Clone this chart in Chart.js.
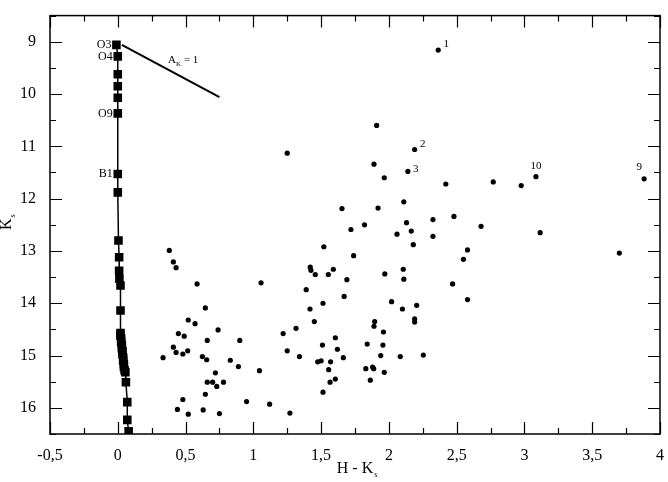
<!DOCTYPE html>
<html>
<head>
<meta charset="utf-8">
<script src="https://cdn.jsdelivr.net/npm/chart.js@4.4.1/dist/chart.umd.min.js"></script>
<style>
  html, body { margin: 0; padding: 0; background: #fff; }
  #wrap { width: 668px; height: 482px; }
</style>
</head>
<body>
<div id="wrap"><canvas id="cmd" width="668" height="482"></canvas></div>
<script>
// Colour-magnitude diagram: K_s vs H - K_s, main sequence + field stars.

// Main sequence (squares joined by a line), spectral type labels where given.
const msX = [-0.01, 0, 0, 0, 0, 0, 0, 0, 0.005, 0.01, 0.01, 0.012, 0.02, 0.02,
    0.02, 0.02, 0.025, 0.025, 0.03, 0.03, 0.035, 0.035, 0.04, 0.04, 0.045, 0.045, 0.05,
    0.056, 0.06, 0.07, 0.07, 0.08];
const msY = [9.06, 9.28, 9.62, 9.85, 10.07, 10.37, 11.53, 11.88, 12.80, 13.12, 13.38, 13.53, 13.66, 14.14,
    14.57, 14.62, 14.68, 14.74, 14.80, 14.86, 14.92, 14.98, 15.04, 15.10, 15.16, 15.22, 15.28,
    15.32, 15.51, 15.89, 16.23, 16.45];
const msNames = ["O3", "O4", "", "", "", "O9", "B1"];

// Field stars
const starX = [0.38, 0.41, 0.43, 0.585, 1.057, 0.646, 0.52, 0.57, 0.74, 0.447,
    0.49, 0.66, 0.90, 0.41, 0.43, 0.48, 0.516, 0.624, 0.656, 0.334,
    0.83, 0.89, 1.045, 0.72, 0.66, 0.70, 0.78, 0.73, 0.646, 0.48,
    0.95, 1.12, 0.44, 0.63, 0.52, 0.75, 2.364, 1.91, 1.25, 2.19,
    1.89, 2.14, 1.966, 2.42, 2.11, 1.654, 1.92, 2.48, 2.325, 2.13,
    1.82, 1.72, 2.165, 2.06, 2.325, 2.18, 2.58, 2.55, 1.52, 1.74,
    1.42, 1.425, 1.457, 1.553, 1.59, 1.69, 1.97, 2.106, 2.11, 1.39,
    1.67, 2.47, 2.58, 1.514, 2.02, 1.418, 2.10, 2.205, 3.085, 3.883,
    2.77, 2.976, 2.68, 3.116, 3.70, 1.45, 1.895, 1.89, 2.19, 2.19,
    1.315, 1.22, 1.96, 1.605, 1.51, 1.62, 1.84, 1.956, 1.25, 1.34,
    1.664, 1.94, 2.084, 2.254, 1.475, 1.50, 1.57, 1.556, 1.83, 1.88,
    1.888, 1.966, 1.605, 1.566, 1.863, 1.514, 1.27];
const starY = [12.99, 13.21, 13.32, 13.63, 13.61, 14.09, 14.32, 14.39, 14.51, 14.58,
    14.63, 14.71, 14.71, 14.84, 14.94, 14.97, 14.91, 15.02, 15.08, 15.04,
    15.09, 15.21, 15.29, 15.33, 15.51, 15.51, 15.51, 15.59, 15.74, 15.84,
    15.88, 15.93, 16.03, 16.04, 16.12, 16.11, 9.16, 10.60, 11.13, 11.06,
    11.34, 11.48, 11.60, 11.72, 12.06, 12.19, 12.18, 12.34, 12.40, 12.46,
    12.50, 12.59, 12.62, 12.68, 12.72, 12.88, 12.98, 13.16, 12.92, 13.09,
    13.31, 13.37, 13.45, 13.45, 13.35, 13.55, 13.44, 13.35, 13.54, 13.74,
    13.87, 13.63, 13.93, 14.00, 13.97, 14.11, 14.11, 14.04, 11.58, 11.62,
    11.68, 11.75, 12.53, 12.65, 13.04, 14.35, 14.35, 14.44, 14.30, 14.36,
    14.48, 14.58, 14.55, 14.66, 14.80, 14.88, 14.78, 14.80, 14.91, 15.02,
    15.04, 15.00, 15.02, 14.99, 15.12, 15.10, 15.12, 15.27, 15.25, 15.22,
    15.25, 15.32, 15.45, 15.51, 15.47, 15.70, 16.10];
// Numbered stars: index into starX/starY and the label shown next to them
const namedIdx = [36, 39, 41, 78, 79];
const namedText = ["1", "2", "3", "10", "9"];

// Reddening vector, A_K = 1
const vecX = [0.03, 0.75];
const vecY = [9.06, 10.06];

// Axes
const xMajor = [-0.5, 0, 0.5, 1, 1.5, 2, 2.5, 3, 3.5, 4];
const xMinor = [-0.25, 0.25, 0.75, 1.25, 1.75, 2.25, 2.75, 3.25, 3.75];
const yMajor = [9, 10, 11, 12, 13, 14, 15, 16];
const yMinor = [8.5, 9.5, 10.5, 11.5, 12.5, 13.5, 14.5, 15.5, 16.5];

const SERIF = "'Liberation Serif', 'Times New Roman', serif";

const zip = (xs, ys) => xs.map((x, i) => ({ x, y: ys[i] }));

// Frame with inward ticks on all four sides, titles and annotations.
const framePlugin = {
    id: "frame",
    afterDraw(chart) {
        const { ctx, chartArea: a, scales: { x, y } } = chart;
        ctx.save();
        ctx.strokeStyle = "#000";
        ctx.lineWidth = 1.5;
        ctx.strokeRect(a.left, a.top, a.right - a.left, a.bottom - a.top);

        ctx.lineWidth = 1.2;
        ctx.beginPath();
        const xt = (v, len) => {
            const px = Math.round(x.getPixelForValue(v)) + 0.5;
            ctx.moveTo(px, a.bottom); ctx.lineTo(px, a.bottom - len);
            ctx.moveTo(px, a.top); ctx.lineTo(px, a.top + len);
        };
        const yt = (v, len) => {
            const py = Math.round(y.getPixelForValue(v)) + 0.5;
            ctx.moveTo(a.left, py); ctx.lineTo(a.left + len, py);
            ctx.moveTo(a.right, py); ctx.lineTo(a.right - len, py);
        };
        xMajor.forEach((v) => xt(v, 12));
        xMinor.forEach((v) => xt(v, 6));
        yMajor.forEach((v) => yt(v, 12));
        yMinor.forEach((v) => yt(v, 6));
        ctx.stroke();

        ctx.fillStyle = "#000";

        // x title: H - K_s
        ctx.font = "16px " + SERIF;
        ctx.textBaseline = "alphabetic";
        ctx.textAlign = "left";
        const t = "H - K";
        const tw = ctx.measureText(t).width;
        const cx = (a.left + a.right) / 2;
        ctx.fillText(t, cx - tw / 2, 473);
        ctx.font = "8px " + SERIF;
        ctx.fillText("s", cx + tw / 2 + 1, 477);

        // y title: K_s, rotated
        ctx.save();
        ctx.translate(11, 230);
        ctx.rotate(-Math.PI / 2);
        ctx.font = "16px " + SERIF;
        ctx.fillText("K", 0, 0);
        const kw = ctx.measureText("K").width;
        ctx.font = "8px " + SERIF;
        ctx.fillText("s", kw + 1, 4);
        ctx.restore();

        // spectral types on the main sequence
        ctx.font = "12px " + SERIF;
        ctx.textAlign = "right";
        ctx.textBaseline = "middle";
        msNames.forEach((n, i) => {
            if (!n) return;
            ctx.fillText(n, x.getPixelForValue(msX[i]) - 5, y.getPixelForValue(msY[i]));
        });

        // numbered stars
        ctx.font = "11px " + SERIF;
        ctx.textAlign = "center";
        const offs = [[8, -6], [8, -5], [8, -2], [0, -11], [-5, -12]];
        namedIdx.forEach((idx, k) => {
            const px = x.getPixelForValue(starX[idx]);
            const py = y.getPixelForValue(starY[idx]);
            ctx.fillText(namedText[k], px + offs[k][0], py + offs[k][1]);
        });

        // A_K = 1 next to the reddening vector
        const lx = x.getPixelForValue(0.37);
        const ly = y.getPixelForValue(9.36);
        ctx.textAlign = "left";
        ctx.font = "11px " + SERIF;
        ctx.fillText("A", lx, ly);
        const aw = ctx.measureText("A").width;
        ctx.font = "7px " + SERIF;
        ctx.fillText("K", lx + aw, ly + 4);
        ctx.font = "11px " + SERIF;
        ctx.fillText("= 1", lx + aw + 8, ly);
        ctx.restore();
    },
};

new Chart(document.getElementById("cmd").getContext("2d"), {
    type: "scatter",
    data: {
        datasets: [
            {
                label: "Field stars",
                data: zip(starX, starY),
                pointStyle: "circle",
                pointRadius: 2.6,
                backgroundColor: "#000",
                borderColor: "#000",
                borderWidth: 0,
            },
            {
                label: "Main sequence",
                data: zip(msX, msY),
                showLine: true,
                pointStyle: "rect",
                pointRadius: 5,
                backgroundColor: "#000",
                borderColor: "#000",
                borderWidth: 1.5,
                tension: 0,
            },
            {
                label: "A_K = 1",
                data: zip(vecX, vecY),
                showLine: true,
                pointRadius: 0,
                borderColor: "#000",
                borderWidth: 2,
            },
        ],
    },
    options: {
        responsive: false,
        animation: false,
        events: [],
        layout: { padding: { top: 6, right: 7, left: 0, bottom: 0 } },
        plugins: { legend: { display: false }, tooltip: { enabled: false } },
        scales: {
            x: {
                type: "linear",
                min: -0.5,
                max: 4,
                grid: { display: false },
                border: { display: false },
                afterBuildTicks: (s) => { s.ticks = xMajor.map((v) => ({ value: v })); },
                afterFit: (s) => { s.height = 48; },
                ticks: {
                    color: "#000",
                    padding: 4,
                    font: { family: SERIF, size: 16 },
                    callback: (v) => String(v).replace(".", ","),
                },
            },
            y: {
                type: "linear",
                reverse: true,
                min: 8.5,
                max: 16.5,
                grid: { display: false },
                border: { display: false },
                afterBuildTicks: (s) => { s.ticks = yMajor.map((v) => ({ value: v })); },
                afterFit: (s) => { s.width = 50; },
                ticks: {
                    color: "#000",
                    padding: 6,
                    font: { family: SERIF, size: 16 },
                },
            },
        },
    },
    plugins: [framePlugin],
});
</script>
</body>
</html>
